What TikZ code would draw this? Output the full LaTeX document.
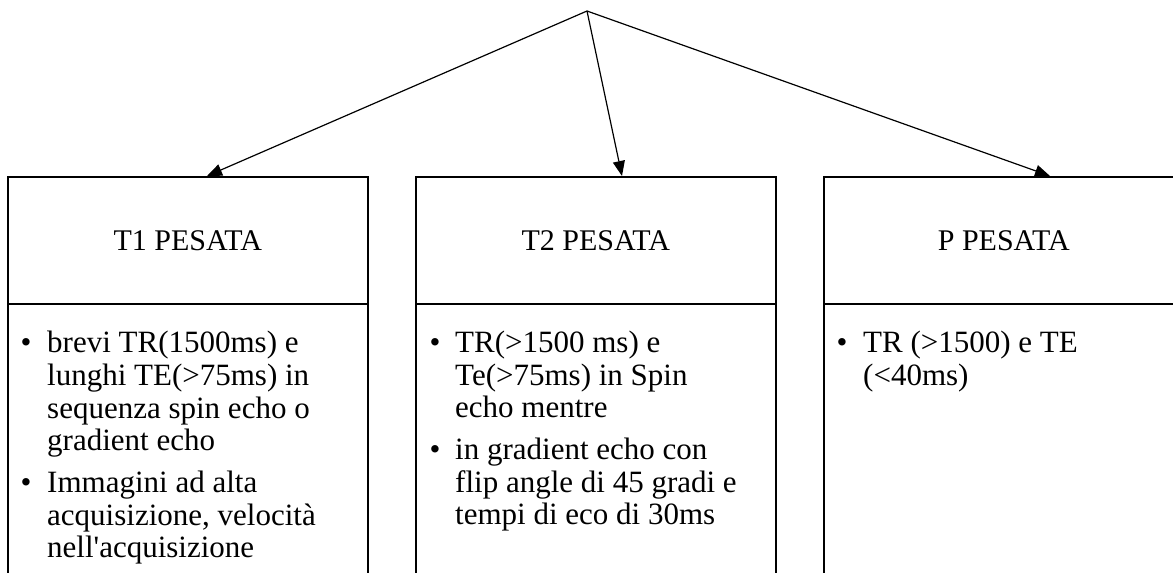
\documentclass[tikz,border=0pt]{standalone}
\usepackage{fontspec}
\setmainfont{Liberation Serif}
\usetikzlibrary{arrows.meta}
\begin{document}
\begin{tikzpicture}[x=1pt,y=-1pt,
  box/.style={draw,line width=2pt,minimum width=359.5pt,inner sep=0pt,anchor=north west},
  hdr/.style={box,minimum height=127pt,font=\fontsize{30}{36}\selectfont},
  bodybox/.style={box,minimum height=300pt},
  ln/.style={anchor=base west,inner sep=0pt,font=\fontsize{31}{33}\selectfont},
  bul/.style={anchor=base,inner sep=0pt,font=\fontsize{31}{33}\selectfont},
  arr/.style={line width=1.2pt,-{Triangle[length=15pt,width=12pt]}}]
\useasboundingbox (0,0) rectangle (1173,573);
\clip (0,0) rectangle (1173,573);
% boxes
\node[hdr] (h1) at (7,176) {T1 PESATA};
\node[bodybox] (b1) at (7,303) {};
\node[hdr] (h2) at (415,176) {T2 PESATA};
\node[bodybox] (b2) at (415,303) {};
\node[hdr] (h3) at (823,176) {P PESATA};
\node[bodybox] (b3) at (823,303) {};
% arrows
\coordinate (top) at (587,11);
\draw[arr] (top) -- ([xshift=200pt]h1.north west);
\draw[arr] (top) -- ([xshift=207pt]h2.north west);
\draw[arr] (top) -- ([xshift=227pt]h3.north west);
% left body
\node[bul] (l1b) at (26,352) {•};
\node[ln] (l1a) at (47,352) {brevi TR(1500ms) e};
\node[ln] (l1c) at (47,385) {lunghi TE(>75ms) in};
\node[ln] (l1d) at (47,418) {sequenza spin echo o};
\node[ln] (l1e) at (47,450) {gradient echo};
\node[bul] (l2b) at (26,492) {•};
\node[ln] (l2a) at (47,492) {Immagini ad alta};
\node[ln] (l2c) at (47,525) {acquisizione, velocità};
\node[ln] (l2d) at (47,557) {nell\textquotesingle acquisizione};
% middle body
\node[bul] (m1b) at (435,352) {•};
\node[ln] (m1a) at (455,352) {TR(>1500 ms) e};
\node[ln] (m1c) at (455,385) {Te(>75ms) in Spin};
\node[ln] (m1d) at (455,417) {echo mentre};
\node[bul] (m2b) at (435,459) {•};
\node[ln] (m2a) at (455,459) {in gradient echo con};
\node[ln] (m2c) at (455,492) {flip angle di 45 gradi e};
\node[ln] (m2d) at (455,524) {tempi di eco di 30ms};
% right body
\node[bul] (r1b) at (842,352) {•};
\node[ln] (r1a) at (863,352) {TR (>1500) e TE};
\node[ln] (r1c) at (863,385) {(<40ms)};
\end{tikzpicture}
\end{document}
